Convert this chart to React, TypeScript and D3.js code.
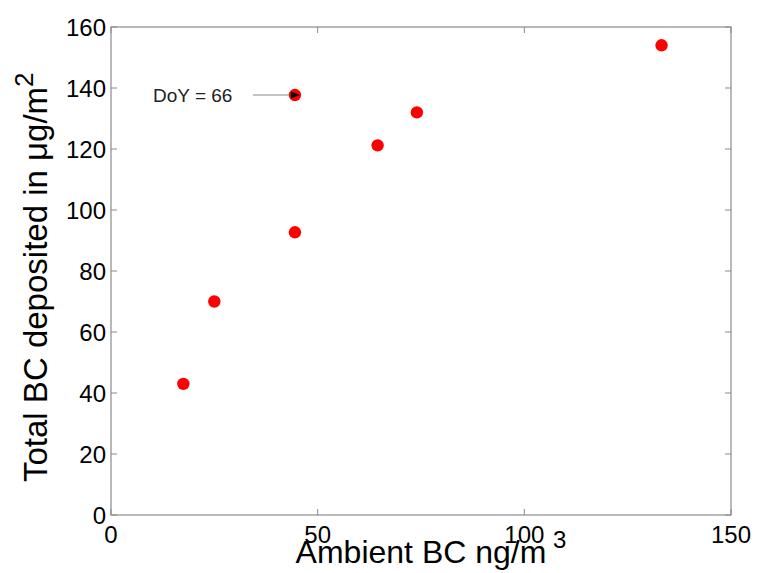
import React from "react";
import * as d3 from "d3";

const ambientBC = [17.5, 25, 44.5, 44.5, 64.5, 74, 133.2];
const depositedBC = [43, 70, 92.7, 137.7, 121.2, 132, 154];
const xTicks = [0, 50, 100, 150];
const yTicks = [0, 20, 40, 60, 80, 100, 120, 140, 160];
const annotationText = "DoY = 66";
const annotationIndex = 3;

const W = 757;
const H = 573;
const M = { left: 111, right: 731, top: 27, bottom: 515 };
const AXIS = "#8a8a8a";
const FONT = "'Liberation Sans', Arial, Helvetica, sans-serif";

export default function App() {
  const x = d3.scaleLinear().domain([0, 150]).range([M.left, M.right]);
  const y = d3.scaleLinear().domain([0, 160]).range([M.bottom, M.top]);
  const tl = 6;
  const ax = x(ambientBC[annotationIndex]);
  const ay = y(depositedBC[annotationIndex]);
  return (
    <svg width={W} height={H} style={{ position: "absolute", left: 0, top: 0 }} fontFamily={FONT}>
      <rect x={0} y={0} width={W} height={H} fill="#fff" />
      <rect x={M.left} y={M.top} width={M.right - M.left} height={M.bottom - M.top} fill="none" stroke={AXIS} strokeWidth={1.2} />
      {xTicks.map((t) => (
        <g key={"x" + t}>
          <line x1={x(t)} x2={x(t)} y1={M.bottom} y2={M.bottom - tl} stroke={AXIS} />
          <line x1={x(t)} x2={x(t)} y1={M.top} y2={M.top + tl} stroke={AXIS} />
          <text x={x(t)} y={543} fontSize={24} textAnchor="middle" fill="#000">{t}</text>
        </g>
      ))}
      {yTicks.map((t) => (
        <g key={"y" + t}>
          <line x1={M.left} x2={M.left + tl} y1={y(t)} y2={y(t)} stroke={AXIS} />
          <line x1={M.right} x2={M.right - tl} y1={y(t)} y2={y(t)} stroke={AXIS} />
          <text x={106} y={y(t)} dy="0.36em" fontSize={24} textAnchor="end" fill="#000">{t}</text>
        </g>
      ))}
      <text x={(M.left + M.right) / 2} y={563} fontSize={32} textAnchor="middle" fill="#000">Ambient BC ng/m</text>
      <text x={553} y={548} fontSize={24} fill="#000">3</text>
      <text transform={`translate(47,482) rotate(-90)`} fontSize={33} fill="#000">
        Total BC deposited in μg/m
        <tspan fontSize={26} dy={-14}>2</tspan>
      </text>
      <line x1={253} x2={ax - 6} y1={ay} y2={ay} stroke="#b0b0b0" strokeWidth={1.5} />
      {ambientBC.map((v, i) => (
        <circle key={i} cx={x(v)} cy={y(depositedBC[i])} r={6.2} fill="#ff0000" />
      ))}
      <path d={`M${ax + 5},${ay} L${ax - 4},${ay - 3.5} L${ax - 4},${ay + 3.5} Z`} fill="#000" />
      <text x={153} y={ay + 7} fontSize={19} fill="#222">{annotationText}</text>
    </svg>
  );
}
